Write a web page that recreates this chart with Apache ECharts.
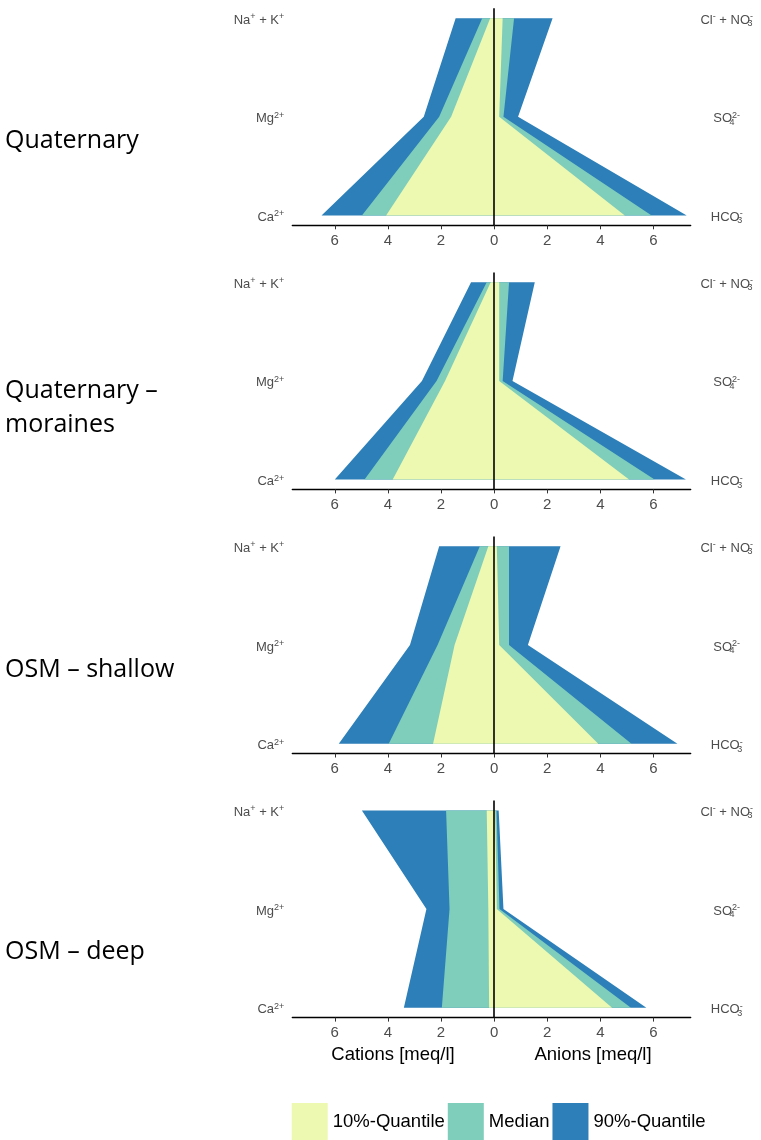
<!DOCTYPE html>
<html>
<head>
<meta charset="utf-8">
<script src="https://cdn.jsdelivr.net/npm/echarts@6/dist/echarts.min.js"></script>
<style>html,body{margin:0;padding:0;background:#fff;}#c{width:761px;height:1140px;}</style>
</head>
<body>
<div id="c"></div>
<script>
// ---- data (meq/l) ----
const panelNames = ['Quaternary', 'Quaternary –\nmoraines', 'OSM – shallow', 'OSM – deep'];
const quantileNames = ['10%-Quantile', 'Median', '90%-Quantile'];
const cationLabels = ['Ca', 'Mg', 'Na + K'];          // y = 0, 1, 2
const anionLabels = ['HCO3', 'SO4', 'Cl + NO3'];       // y = 0, 1, 2
const xTickValues = [-6, -4, -2, 0, 2, 4, 6];
// cations: [Na+K, Mg, Ca]; anions: [Cl+NO3, SO4, HCO3]
const q10Cations = [[0.15, 1.62, 4.07], [0.13, 1.85, 3.82], [0.22, 1.49, 2.30], [0.28, 0.22, 0.19]];
const q10Anions  = [[0.32, 0.19, 4.92], [0.19, 0.19, 5.08], [0.10, 0.19, 3.92], [0.04, 0.10, 4.44]];
const medCations = [[0.45, 2.07, 4.98], [0.28, 2.17, 4.88], [0.54, 2.13, 3.97], [1.81, 1.68, 1.97]];
const medAnions  = [[0.75, 0.35, 5.93], [0.56, 0.32, 6.04], [0.56, 0.56, 5.17], [0.09, 0.20, 5.15]];
const q90Cations = [[1.45, 2.65, 6.50], [0.87, 2.72, 6.00], [2.07, 3.17, 5.85], [4.98, 2.55, 3.40]];
const q90Anions  = [[2.20, 0.90, 7.25], [1.53, 0.69, 7.22], [2.50, 1.27, 6.90], [0.17, 0.35, 5.73]];

// ---- styling ----
const colors = ['#edf8b1', '#7fcdbb', '#2c7fb8'];
const labelGray = '#4d4d4d';
const panelTop0 = 8.3, panelStep = 264.1, panelH = 217;
const titleY = [141, 408, 670, 952];

const leftRich = ['{n|Ca}{sup|2+}', '{n|Mg}{sup|2+}', '{n|Na}{sup|+}{n| + K}{sup|+}'];
const rightRich = ['{n|HCO}{subz|3}{sup|-}', '{n|SO}{subz|4}{sup|2-}', '{n|Cl}{sup|-}{n| + NO}{subz|3}{sup|-}'];
const rich = {
  n: {fontSize: 13, color: labelGray, fontFamily: 'Liberation Sans', lineHeight: 16},
  sup: {fontSize: 9, color: labelGray, fontFamily: 'Liberation Sans', lineHeight: 9, verticalAlign: 'top'},
  subz: {fontSize: 9, color: labelGray, fontFamily: 'Liberation Sans', lineHeight: 9, verticalAlign: 'bottom', width: 0}
};

const quantData = [[q10Cations, q10Anions], [medCations, medAnions], [q90Cations, q90Anions]];

const grids = [], xAxes = [], yAxes = [], series = [];
for (let p = 0; p < 4; p++) {
  grids.push({left: 292.3, right: 70.3, top: panelTop0 + panelStep * p, height: panelH});
  xAxes.push({
    type: 'value', gridIndex: p, min: -7.6, max: 7.4, position: 'bottom',
    axisLine: {show: true, onZero: false, lineStyle: {color: '#000', width: 1.3}},
    axisTick: {show: true, customValues: xTickValues, length: 4, lineStyle: {color: '#333'}},
    axisLabel: {customValues: xTickValues, formatter: v => String(Math.abs(v)), color: labelGray,
      fontSize: 15, fontFamily: 'Liberation Sans', margin: 8},
    splitLine: {show: false}
  });
  yAxes.push({
    type: 'value', gridIndex: p, position: 'left', min: -0.1, max: 2.1,
    axisLine: {show: false, onZero: false}, axisTick: {show: false}, splitLine: {show: false},
    axisLabel: {customValues: [0, 1, 2], formatter: v => leftRich[Math.round(v)], rich: rich,
      margin: 8, align: 'right', padding: [4, 0, 0, 0]}
  });
  yAxes.push({
    type: 'value', gridIndex: p, position: 'right', min: -0.1, max: 2.1,
    axisLine: {show: false, onZero: false}, axisTick: {show: false}, splitLine: {show: false},
    axisLabel: {customValues: [0, 1, 2], formatter: v => rightRich[Math.round(v)], rich: rich,
      margin: 36, align: 'center', padding: [4, 0, 0, 0]}
  });
  // 90% first (back), then median, then 10% (front)
  for (let qi = 2; qi >= 0; qi--) {
    const cat = quantData[qi][0][p], an = quantData[qi][1][p];
    const fill = colors[qi];
    const s = {
      type: 'custom', name: quantileNames[qi], xAxisIndex: p, yAxisIndex: p * 2,
      itemStyle: {color: fill}, silent: true, animation: false, z: 2 + (2 - qi),
      data: [[cat[0], cat[1], cat[2], an[0], an[1], an[2]]],
      renderItem: function (params, api) {
        const pts = [
          api.coord([-api.value(0), 2]), api.coord([-api.value(1), 1]), api.coord([-api.value(2), 0]),
          api.coord([api.value(5), 0]), api.coord([api.value(4), 1]), api.coord([api.value(3), 2])
        ];
        return {type: 'polygon', shape: {points: pts}, style: {fill: fill}};
      }
    };
    if (qi === 0) {
      s.markLine = {silent: true, symbol: ['none', 'none'], label: {show: false}, animation: false,
        lineStyle: {color: '#000', width: 1.6, type: 'solid'}, data: [{xAxis: 0}], z: 10};
    }
    series.push(s);
  }
}

const graphics = panelNames.map((t, i) => ({
  type: 'text', x: 5, y: titleY[i],
  style: {text: t, fontSize: 25, fontFamily: 'Open Sans', fill: '#000', align: 'left',
    verticalAlign: 'middle', lineHeight: 34}
}));
graphics.push({type: 'text', x: 393, y: 1055,
  style: {text: 'Cations [meq/l]', fontSize: 18.5, fontFamily: 'Liberation Sans', fill: '#000', align: 'center', verticalAlign: 'middle'}});
graphics.push({type: 'text', x: 593, y: 1055,
  style: {text: 'Anions [meq/l]', fontSize: 18.5, fontFamily: 'Liberation Sans', fill: '#000', align: 'center', verticalAlign: 'middle'}});

const chart = echarts.init(document.getElementById('c'), null, {renderer: 'canvas'});
chart.setOption({
  animation: false,
  backgroundColor: '#fff',
  grid: grids, xAxis: xAxes, yAxis: yAxes, series: series,
  legend: {
    data: quantileNames, left: 291.7, top: 1103, itemWidth: 36, itemHeight: 37, itemGap: 3,
    icon: 'rect', selectedMode: false, padding: 0,
    textStyle: {fontSize: 18.5, color: '#000', fontFamily: 'Liberation Sans'}
  },
  graphic: graphics
});
</script>
</body>
</html>
